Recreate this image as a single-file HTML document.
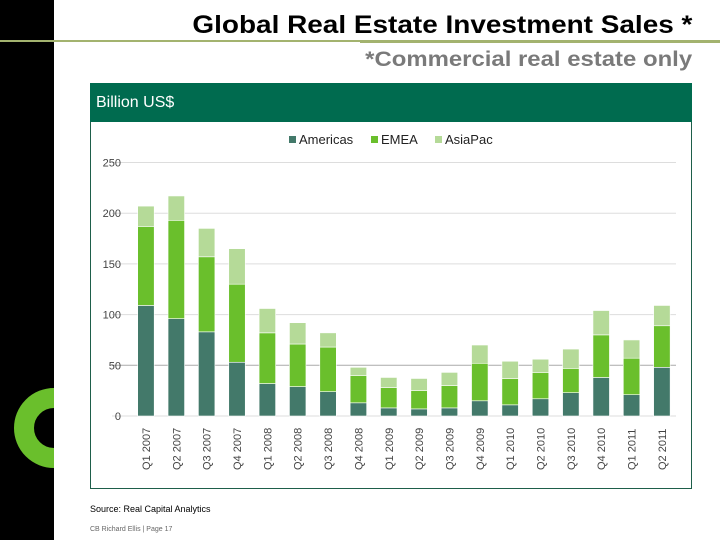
<!DOCTYPE html>
<html><head><meta charset="utf-8"><style>
body{margin:0;width:720px;height:540px;background:#fff;position:relative;overflow:hidden;font-family:"Liberation Sans",Arial,sans-serif}
.abs{position:absolute}
</style></head><body>
<div class="abs" style="left:0;top:0;width:54px;height:540px;background:#000"></div>
<svg class="abs" style="left:0;top:0" width="54" height="540"><circle cx="54" cy="428" r="30" fill="none" stroke="#6abf2c" stroke-width="20"/></svg>
<div class="abs" style="left:0;top:40px;width:720px;height:2px;background:#a3b36f"></div>
<div class="abs" style="left:360px;top:40px;width:360px;height:3px;background:#a3b36f"></div>
<div class="abs" id="title" style="right:28px;top:11px;font-size:25px;line-height:29px;font-weight:bold;color:#000;transform-origin:right;white-space:nowrap">Global Real Estate Investment Sales *</div>
<div class="abs" id="sub" style="right:28px;top:48px;font-size:21px;line-height:24px;font-weight:bold;color:#7a7a7a;transform-origin:right;white-space:nowrap">*Commercial real estate only</div>
<div class="abs" style="left:90px;top:83px;width:600px;height:405px;border:1px solid #1e5e4a;border-top:none"></div>
<div class="abs" style="left:90px;top:83px;width:602px;height:39px;background:#006b4f;color:#fff;font-size:16px;line-height:40px;padding-left:6px;box-sizing:border-box">Billion US$</div>
<svg class="abs" style="left:0;top:0" width="720" height="540" id="chart"></svg>
<div class="abs" style="left:90px;top:504px;font-size:9px;color:#000">Source: Real Capital Analytics</div>
<div class="abs" style="left:90px;top:526px;font-size:7px;color:#666">CB Richard Ellis | Page 17</div>
<script>
const categories=["Q1 2007","Q2 2007","Q3 2007","Q4 2007","Q1 2008","Q2 2008","Q3 2008","Q4 2008","Q1 2009","Q2 2009","Q3 2009","Q4 2009","Q1 2010","Q2 2010","Q3 2010","Q4 2010","Q1 2011","Q2 2011"];
const americas=[109,96,83,53,32,29,24,13,8,7,8,15,11,17,23,38,21,48];
const emea=[78,97,74,77,50,42,44,27,20,18,22,37,26,26,24,42,36,41];
const asiapac=[20,24,28,35,24,21,14,8,10,12,13,18,17,13,19,24,18,20];
const yTicks=[0,50,100,150,200,250];
const seriesNames=["Americas","EMEA","AsiaPac"];
const colors=["#43796a","#6abf2c","#b5da98"];
function fit(id,w){const e=document.getElementById(id);const r=e.getBoundingClientRect().width;e.style.transform='scaleX('+(w/r)+')';}
fit('title',500);fit('sub',327);
const svg=document.getElementById('chart');const NS="http://www.w3.org/2000/svg";
const y0=416,y1=162.5,yMax=250,x0=137.7,step=30.35,bw=16.5;
const ys=v=>y0-(v/yMax)*(y0-y1);
const xs=i=>x0+i*step;
function mk(t,a){const e=document.createElementNS(NS,t);for(const k in a)e.setAttribute(k,a[k]);svg.appendChild(e);return e;}
yTicks.forEach(t=>{
 const l=mk('line',{x1:112,x2:676,y1:ys(t),y2:ys(t),stroke:t==50?'#aaa':'#ddd','stroke-width':1});
 
 
 const tx=mk('text',{x:121,y:ys(t)+4,'text-anchor':'end','font-size':11,fill:'#444'});
 tx.textContent=t;
 
 
});
const series=[americas,emea,asiapac];
categories.forEach((c,i)=>{
 let base=0;
 series.forEach((s,k)=>{
  const top=base+s[i];
  const r=mk('rect',{x:xs(i),y:ys(top),width:bw,height:ys(base)-ys(top),fill:colors[k],stroke:'#fff','stroke-width':0.6});
  
  
  base=top;
 });
 const cx=xs(i)+bw/2+4;
 const t=mk('text',{x:cx,y:470,'font-size':11,fill:'#444',transform:`rotate(-90 ${cx} 470)`});
 t.textContent=c;
 
 
});
const lx=[289,371,435];
seriesNames.forEach((n,k)=>{
 const r=mk('rect',{x:lx[k],y:136,width:7,height:7,fill:colors[k]});
 
 
 const t=mk('text',{x:lx[k]+10,y:144,'font-size':13,fill:'#222'});
 t.textContent=n;
 
 
});
</script>
</body></html>
